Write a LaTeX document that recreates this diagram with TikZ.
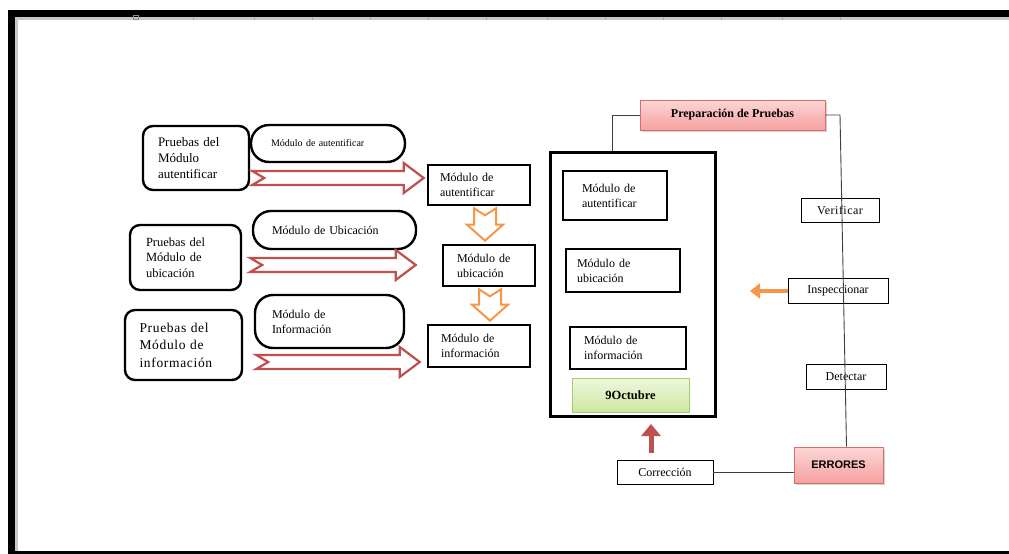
\documentclass[tikz,border=0pt]{standalone}
\usepackage{fontspec}
\setmainfont{Liberation Serif}
\newfontfamily\sansb{Liberation Sans}
\usetikzlibrary{calc,shadows,arrows.meta}
\definecolor{redarr}{RGB}{192,80,77}
\definecolor{orarr}{RGB}{247,150,70}
\definecolor{pinktop}{RGB}{253,214,214}
\definecolor{pinkbot}{RGB}{245,160,160}
\definecolor{pinkline}{RGB}{214,110,110}
\definecolor{greentop}{RGB}{238,247,222}
\definecolor{greenbot}{RGB}{205,232,160}
\definecolor{greenline}{RGB}{165,205,115}
% #1 tail, #2 tip, #3 y (pixel)
\newcommand\rblockarrow[3]{%
  \draw[redarr,line width=2.2pt,fill=white,line join=miter] let \p1=(#1), \p2=(#2), \p3=(0,#3) in
  (\x1,\y3+7pt) -- (\x2-20pt,\y3+7pt) -- (\x2-20pt,\y3+15pt) -- (\x2,\y3) --
  (\x2-20pt,\y3-15pt) -- (\x2-20pt,\y3-7pt) -- (\x1,\y3-7pt) -- (\x1+12pt,\y3) -- cycle;}
\newcommand\dblockarrow[3]{%
  \draw[orarr,line width=2pt,fill=white,line join=miter] let \p1=(#1), \p2=(#2), \p3=(#3,0) in
  (\x3-11pt,\y1-2pt) -- (\x3,\y1-9pt) -- (\x3+11pt,\y1-2pt) -- (\x3+11pt,\y2+19pt) --
  (\x3+18pt,\y2+19pt) -- (\x3,\y2+3pt) -- (\x3-18pt,\y2+19pt) -- (\x3-11pt,\y2+19pt) -- cycle;}
\begin{document}
\begin{tikzpicture}[x=1pt,y=-1pt,
  rbox/.style={draw,line width=2.4pt,rounded corners=10pt,align=left,inner xsep=0pt,
    font=\fontsize{13}{16}\selectfont},
  pill/.style={draw,line width=2.4pt,rounded corners=18pt,align=left,inner xsep=0pt,
    font=\fontsize{12}{15}\selectfont},
  mbox/.style={draw,line width=2.6pt,align=left,inner xsep=0pt,
    font=\fontsize{12}{15}\selectfont},
  tbox/.style={draw,line width=0.8pt,inner sep=0pt,font=\fontsize{12}{14}\selectfont},
  pinkbox/.style={draw=pinkline,line width=0.8pt,top color=pinktop,bottom color=pinkbot,
    drop shadow={shadow xshift=1.5pt,shadow yshift=-1.5pt,opacity=0.35},inner sep=0pt},
  conn/.style={black!75,line width=0.9pt}]
\useasboundingbox (0,0) rectangle (1009,554);
% page frame
\fill[black] (8,9.5) rectangle (1009,17);
\fill[black] (8,9.5) rectangle (15,553.5);
\fill[black] (8,551) rectangle (1009,553.5);
\fill[black!22] (15,17) rectangle (1009,19.5);
\fill[black!22] (15,17) rectangle (18,551);
\foreach \t in {193,254,312,370,428,486,547,605,663,721,782,840}
  \draw[black!35,line width=0.5pt] (\t,17) -- (\t,19.5);
\draw[black!45,line width=0.6pt] (133,15.5) rectangle (138,19.5);
% left column
\node[rbox,minimum width=106,minimum height=64,text width=76] (p1) at (196,158)
  {Pruebas del\\Módulo\\autentificar};
\node[rbox,minimum width=111,minimum height=65,text width=79,
  font=\fontsize{12.5}{15.5}\selectfont] (p2) at (185.5,257.5)
  {Pruebas del\\Módulo de\\ubicación};
\node[rbox,minimum width=117,minimum height=70,text width=88,
  font=\fontsize{13.5}{17.5}\addfontfeature{LetterSpace=5}\selectfont] (p3) at (183.5,345)
  {Pruebas del\\Módulo de\\información};
% pills
\node[pill,minimum width=154,minimum height=37,text width=114,
  font=\fontsize{10}{12}\selectfont] (l1) at (328,143.5) {Módulo de autentificar};
\node[pill,minimum width=163,minimum height=38,text width=125] (l2) at (334.5,230)
  {Módulo de Ubicación};
\node[pill,minimum width=149,minimum height=53,text width=115] (l3) at (329.5,321.5)
  {Módulo de\\Información};
% middle boxes
\node[mbox,minimum width=102,minimum height=40,text width=78] (m1) at (479,185)
  {Módulo de\\autentificar};
\node[mbox,minimum width=92,minimum height=41,text width=64] (m2) at (489,265.5)
  {Módulo de\\ubicación};
\node[mbox,minimum width=102,minimum height=42,text width=76] (m3) at (479,346)
  {Módulo de\\información};
% red block arrows
\rblockarrow{$(p1.east)+(2,0)$}{$(m1.west)+(-3,0)$}{178}
\rblockarrow{$(p2.east)+(8,0)$}{$(m2.west)+(-26,0)$}{265}
\rblockarrow{$(p3.east)+(13,0)$}{$(m3.west)+(-7,0)$}{362}
% orange block arrows
\dblockarrow{m1.south}{m2.north}{485}
\dblockarrow{m2.south}{m3.north}{490}
% container
\node[draw,line width=3pt,minimum width=165,minimum height=264] (cont) at (632.5,284) {};
\node[mbox,minimum width=104,minimum height=49,text width=66] (i1) at (615,195.5)
  {Módulo de\\autentificar};
\node[mbox,minimum width=114,minimum height=43,text width=92] (i2) at (623,270.5)
  {Módulo de\\ubicación};
\node[mbox,minimum width=116,minimum height=42,text width=88] (i3) at (628,348)
  {Módulo de\\información};
\node[draw=greenline,line width=0.8pt,top color=greentop,bottom color=greenbot,
  minimum width=117,minimum height=34,inner sep=0pt,
  font=\fontsize{12.5}{14}\bfseries\selectfont] (oct) at (630.5,395) {9Octubre};
% right side
\node[pinkbox,minimum width=185,minimum height=30,
  font=\fontsize{12}{14}\bfseries\selectfont] (prep) at (732.5,115) {Preparación de Pruebas};
\node[tbox,minimum width=78,minimum height=24] (ver) at (840,210)
  {\addfontfeature{LetterSpace=4}Verificar};
\node[tbox,minimum width=100,minimum height=25] (insp) at (838,290.5) {Inspeccionar};
\node[tbox,minimum width=80,minimum height=25] (det) at (846,376.5) {Detectar};
\node[pinkbox,minimum width=89,minimum height=36,
  font=\sansb\fontsize{11}{13}\bfseries\selectfont] (err) at (838.5,465) {ERRORES};
\node[tbox,minimum width=96,minimum height=24] (corr) at (665,472) {Corrección};
% connectors
\coordinate (pl) at (612,115);
\coordinate (pr) at (840,115);
\draw[conn] (prep.west) -- (pl) -- (pl |- cont.north);
\draw[conn] (prep.east) -- (pr) -- ($(err.north)+(8,0)$);
\draw[conn] (corr.east) -- (corr.east -| err.west);
\coordinate (ctip) at (651,424);
\draw[redarr,line width=5pt,-{Triangle[width=19pt,length=12pt]}]
  ($(corr.north -| ctip)+(0,-7)$) -- (ctip);
\coordinate (itip) at (750,291);
\draw[orarr,line width=4pt,-{Triangle[width=15pt,length=10pt]}]
  (insp.west |- itip) -- (itip);
\end{tikzpicture}
\end{document}
